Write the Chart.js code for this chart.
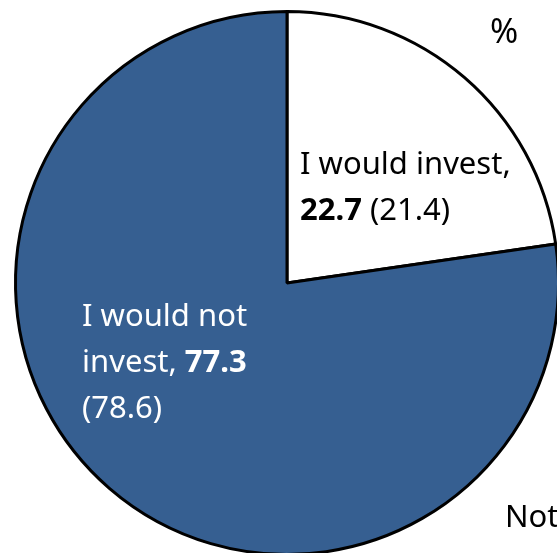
<!DOCTYPE html>
<html>
<head>
<meta charset="utf-8">
<script src="https://cdn.jsdelivr.net/npm/chart.js@4"></script>
<style>
  html, body { margin: 0; padding: 0; background: #fff; overflow: hidden; }
  #wrap { width: 600px; height: 600px; }
</style>
</head>
<body>
<div id="wrap"><canvas id="myChart" width="600" height="600"></canvas></div>
<script>
const categories = ['I would invest', 'I would not invest'];
const currentValues = [22.7, 77.3];
const previousValues = [21.4, 78.6];
const sliceColors = ['#ffffff', '#365f91'];

const fontName = '"Noto Sans", "Open Sans", sans-serif';

// draw one line made of [text, bold] parts
function drawParts(ctx, parts, x, y, size, color) {
    ctx.fillStyle = color;
    ctx.textBaseline = 'alphabetic';
    ctx.textAlign = 'left';
    parts.forEach(p => {
        ctx.font = (p[1] ? 'bold ' : '') + size + 'px ' + fontName;
        ctx.fillText(p[0], x, y);
        x += ctx.measureText(p[0]).width;
    });
}

const labelPlugin = {
    id: 'sliceLabels',
    afterDraw(chart) {
        const ctx = chart.ctx;
        const size = 31;
        ctx.save();
        drawParts(ctx, [['I would invest,', false]], 300, 174, size, '#000');
        drawParts(ctx, [[currentValues[0].toFixed(1), true], [' (' + previousValues[0].toFixed(1) + ')', false]], 300, 220, size, '#000');

        drawParts(ctx, [['I would not', false]], 82, 326, size, '#fff');
        drawParts(ctx, [['invest, ', false], [currentValues[1].toFixed(1), true]], 82, 372, size, '#fff');
        drawParts(ctx, [['(' + previousValues[1].toFixed(1) + ')', false]], 82, 418, size, '#fff');

        drawParts(ctx, [['%', false]], 490, 43, 34, '#000');
        drawParts(ctx, [['Note', false]], 505, 527, 31, '#000');
        ctx.restore();
    }
};

var ctx = document.getElementById('myChart').getContext('2d');
var myChart = new Chart(ctx, {
    type: 'pie',
    data: {
        labels: categories,
        datasets: [{
            data: currentValues,
            backgroundColor: sliceColors,
            borderColor: '#000000',
            borderWidth: 3
        }]
    },
    options: {
        responsive: false,
        animation: false,
        layout: { padding: { left: 14, top: 10, right: 40, bottom: 44 } },
        plugins: {
            legend: { display: false },
            tooltip: { enabled: false }
        }
    },
    plugins: [labelPlugin]
});
</script>
</body>
</html>
